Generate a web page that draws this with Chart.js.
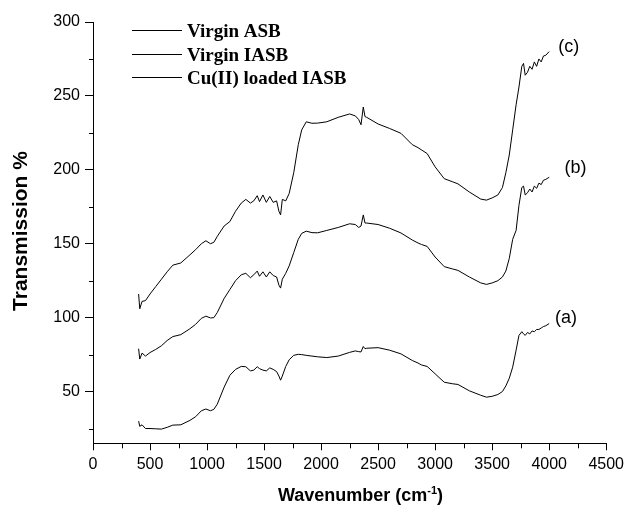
<!DOCTYPE html>
<html>
<head>
<meta charset="utf-8">
<title>FTIR spectra</title>
<script src="https://cdn.jsdelivr.net/npm/chart.js@4.4.1/dist/chart.umd.min.js"></script>
<style>
    body { margin: 0; background: #fff; }
    #chart-box { width: 629px; height: 508px; }
</style>
</head>
<body>
<div id="chart-box"><canvas id="ftir-chart"></canvas></div>
<script>
// values
var wavenumbers = [400, 410, 430, 460, 500, 550, 600, 650, 700, 770, 850, 900, 950, 990, 1030, 1060, 1090,
    1150, 1200, 1250, 1300, 1340, 1380, 1410, 1440, 1460, 1490, 1520, 1550, 1580, 1610, 1630, 1645, 1660,
    1690, 1720, 1760, 1800, 1830, 1870, 1920, 1970, 2050, 2150, 2250, 2300, 2330, 2350, 2370, 2385, 2400,
    2500, 2600, 2700, 2800, 2850, 2880, 2930, 3000, 3080, 3150, 3200, 3300, 3400, 3450, 3500, 3550, 3590,
    3620, 3650, 3680, 3710, 3735, 3760, 3775, 3790, 3810, 3830, 3850, 3870, 3890, 3910, 3930, 3950, 3970, 4000];

var virginASB = [30, 26.5, 27.5, 25, 25, 24.8, 24.6, 25.8, 27.3, 27.5, 30.5, 33, 37, 38.2, 37, 38, 41.5,
    53, 61, 65, 67, 66.8, 64, 64.5, 66.8, 65.5, 64.5, 64, 66, 65, 63.5, 60.5, 57.7, 60.5,
    67, 71.5, 74.5, 75.2, 75, 74.5, 74, 73.5, 73, 74, 76.5, 77.5, 77, 76.8, 80.5, 79, 79.3,
    79.7, 78, 75.5, 71, 69.3, 68, 67, 62, 56.3, 55.3, 54.8, 50.5, 47.5, 46.2, 46.8, 48, 50,
    53.8, 59, 66.5, 78, 88, 90.5, 89, 88, 90, 89, 91, 90.5, 92, 92, 93, 94, 94.5, 96];

var virginIASB = [79, 72, 76, 74, 76.4, 78.5, 81, 84.5, 87.2, 88.5, 92.5, 95.5, 99.5, 101, 99.8, 100, 103.5,
    113, 119, 125, 129, 130, 127, 129, 131.5, 128, 131, 127.5, 131, 128.5, 127.5, 122, 120, 126,
    130, 135, 144, 153, 157, 158.5, 157.5, 157.4, 159, 161, 163.5, 163, 161, 162, 169.5, 164, 164,
    163, 160.5, 157.3, 152.5, 150.5, 149.5, 148.2, 141, 134.5, 133, 132, 127.5, 123.5, 122.5, 123.5, 125, 127.5,
    131.5, 140, 153, 159, 176, 188, 189, 183, 184.5, 187, 185, 189, 187.5, 191, 190, 193, 193.5, 195];

var cuLoadedIASB = [116, 106, 111, 111.5, 116, 121, 126, 131, 135.5, 137, 142.5, 146, 150, 152, 150, 151, 155,
    162, 165, 172, 177.5, 180, 177.5, 179, 182.5, 178.5, 183, 178, 182, 178, 179, 172, 169.5, 180,
    179, 184, 198, 217, 227, 232.5, 231.5, 231.6, 232.5, 235.5, 237.8, 236.5, 234, 230.5, 242.5, 236, 235.5,
    231, 228, 224.7, 217, 215, 213.5, 211, 202, 194, 192, 190.5, 185, 180.2, 179.5, 181, 183, 188,
    198, 210, 227, 244, 256, 270, 272, 264, 266, 270, 268, 273, 270, 275, 273, 277, 277.5, 280];

var seriesNames = ["Virgin ASB", "Virgin IASB", "Cu(II) loaded IASB"];
var curveTags = ["(a)", "(b)", "(c)"];
var tagWavenumbers = [4050, 4135, 4080];
var tagLevels = [100, 201, 283];

var xTicks = [0, 500, 1000, 1500, 2000, 2500, 3000, 3500, 4000, 4500];
var xMinorTicks = [250, 750, 1250, 1750, 2250, 2750, 3250, 3750, 4250];
var yTicks = [50, 100, 150, 200, 250, 300];
var yMinorTicks = [25, 75, 125, 175, 225, 275];

var sansFont = 'Arial, "Liberation Sans", sans-serif';
var serifFont = '"Times New Roman", "Liberation Serif", serif';

function toPoints(values) {
    return wavenumbers.map(function(w, i) {
        return { x: w, y: values[i] };
    });
}

// short minor ticks, outside the axes like the original
var minorTicksPlugin = {
    id: 'minorTicks',
    afterDraw: function(chart) {
        var ctx = chart.ctx;
        var area = chart.chartArea;
        var xs = chart.scales.x;
        var ys = chart.scales.y;
        ctx.save();
        ctx.strokeStyle = '#000';
        ctx.lineWidth = 1;
        ctx.beginPath();
        xMinorTicks.forEach(function(v) {
            var px = Math.round(xs.getPixelForValue(v)) + 0.5;
            ctx.moveTo(px, area.bottom);
            ctx.lineTo(px, area.bottom + 5);
        });
        yMinorTicks.forEach(function(v) {
            var py = Math.round(ys.getPixelForValue(v)) + 0.5;
            ctx.moveTo(area.left - 4, py);
            ctx.lineTo(area.left, py);
        });
        ctx.stroke();
        ctx.restore();
    }
};

// legend in the upper left of the plot
var innerLegendPlugin = {
    id: 'innerLegend',
    afterDraw: function(chart) {
        var ctx = chart.ctx;
        ctx.save();
        ctx.font = 'bold 19px ' + serifFont;
        ctx.fillStyle = '#000';
        ctx.textBaseline = 'alphabetic';
        chart.data.datasets.forEach(function(ds, i) {
            var y = Math.round(30 + i * 23.6) + 0.5;
            ctx.strokeStyle = ds.borderColor;
            ctx.lineWidth = 1;
            ctx.beginPath();
            ctx.moveTo(132, y);
            ctx.lineTo(182, y);
            ctx.stroke();
            ctx.fillText(ds.label, 187, y + 6.5);
        });
        ctx.restore();
    }
};

// (a) (b) (c) next to the curve ends
var curveTagPlugin = {
    id: 'curveTags',
    afterDatasetsDraw: function(chart) {
        var ctx = chart.ctx;
        ctx.save();
        ctx.font = '18px ' + sansFont;
        ctx.fillStyle = '#000';
        ctx.textAlign = 'left';
        ctx.textBaseline = 'middle';
        curveTags.forEach(function(tag, i) {
            ctx.fillText(tag, chart.scales.x.getPixelForValue(tagWavenumbers[i]),
                chart.scales.y.getPixelForValue(tagLevels[i]));
        });
        ctx.restore();
    }
};

// axis titles, the x one has a superscript
var axisTitlePlugin = {
    id: 'axisTitles',
    afterDraw: function(chart) {
        var ctx = chart.ctx;
        ctx.save();
        ctx.fillStyle = '#000';
        ctx.font = 'bold 21px ' + sansFont;
        ctx.textAlign = 'center';
        ctx.textBaseline = 'middle';
        ctx.translate(21, 231);
        ctx.rotate(-Math.PI / 2);
        ctx.fillText('Transmission %', 0, 0);
        ctx.restore();

        ctx.save();
        ctx.fillStyle = '#000';
        ctx.textAlign = 'left';
        ctx.textBaseline = 'alphabetic';
        var mainFont = 'bold 18px ' + sansFont;
        var supFont = 'bold 11px ' + sansFont;
        ctx.font = mainFont;
        var w1 = ctx.measureText('Wavenumber (cm').width;
        var w3 = ctx.measureText(')').width;
        ctx.font = supFont;
        var w2 = ctx.measureText('-1').width;
        var x = 360.5 - (w1 + w2 + w3) / 2;
        var base = 501;
        ctx.font = mainFont;
        ctx.fillText('Wavenumber (cm', x, base);
        ctx.font = supFont;
        ctx.fillText('-1', x + w1, base - 7);
        ctx.font = mainFont;
        ctx.fillText(')', x + w1 + w2, base);
        ctx.restore();
    }
};

var ctx = document.getElementById('ftir-chart').getContext('2d');
var seriesValues = [virginASB, virginIASB, cuLoadedIASB];

window.ftirChart = new Chart(ctx, {
    type: 'line',
    data: {
        datasets: seriesValues.map(function(values, i) {
            return {
                label: seriesNames[i],
                data: toPoints(values),
                borderColor: '#000',
                borderWidth: 1,
                pointRadius: 0,
                tension: 0,
                fill: false
            };
        })
    },
    options: {
        responsive: true,
        maintainAspectRatio: false,
        animation: false,
        devicePixelRatio: 1,
        layout: { padding: { left: 0, top: 22, right: 18, bottom: 0 } },
        plugins: {
            legend: { display: false },
            tooltip: { enabled: false }
        },
        scales: {
            x: {
                type: 'linear',
                min: 0,
                max: 4500,
                afterBuildTicks: function(scale) {
                    scale.ticks = xTicks.map(function(v) { return { value: v }; });
                },
                afterFit: function(scale) { scale.height = 64.7; },
                grid: { drawOnChartArea: false, tickLength: 7, color: '#000', tickColor: '#000' },
                border: { display: true, color: '#000', width: 1 },
                ticks: {
                    color: '#000',
                    font: { family: sansFont, size: 16 },
                    padding: 5,
                    maxRotation: 0,
                    autoSkip: false,
                    callback: function(v) { return String(v); }
                }
            },
            y: {
                type: 'linear',
                min: 15,
                max: 300,
                afterBuildTicks: function(scale) {
                    scale.ticks = yTicks.map(function(v) { return { value: v }; });
                },
                afterFit: function(scale) { scale.width = 93; },
                grid: { drawOnChartArea: false, tickLength: 8, color: '#000', tickColor: '#000' },
                border: { display: true, color: '#000', width: 1 },
                ticks: {
                    color: '#000',
                    font: { family: sansFont, size: 16 },
                    padding: 5,
                    autoSkip: false,
                    callback: function(v) { return String(v); }
                }
            }
        }
    },
    plugins: [minorTicksPlugin, curveTagPlugin, innerLegendPlugin, axisTitlePlugin]
});
</script>
</body>
</html>
